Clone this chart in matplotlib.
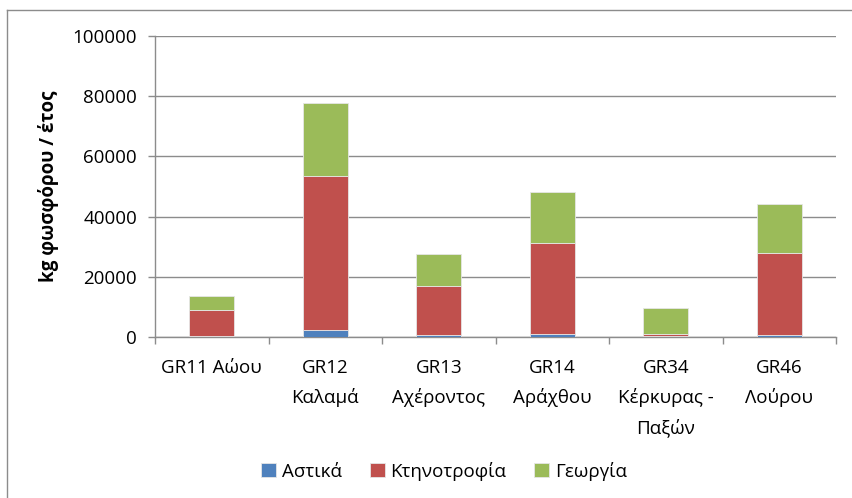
import numpy as np
import matplotlib.pyplot as plt
from matplotlib.lines import Line2D

plt.rcParams['font.family'] = ['Open Sans', 'DejaVu Sans']

# kg phosphorus per year
categories = ['GR11 Αώου', 'GR12\nΚαλαμά', 'GR13\nΑχέροντος', 'GR14\nΑράχθου',
              'GR34\nΚέρκυρας -\nΠαξών', 'GR46\nΛούρου']
astika = [400, 2200, 550, 1100, 450, 800]
ktinotrofia = [8600, 51300, 16400, 30150, 450, 27100]
georgia = [4500, 24400, 10500, 17050, 8600, 16300]

colors = ['#4F81BD', '#C0504D', '#9BBB59']
names = ['Αστικά', 'Κτηνοτροφία', 'Γεωργία']
fs = 13.5

W, H = 852, 498
fig = plt.figure(figsize=(W / 100, H / 100), dpi=100)
ax = fig.add_axes([155 / W, 1 - 337 / H, (836 - 155) / W, (337 - 36) / H])

x = np.arange(len(categories))
bottom = np.zeros(len(categories))
handles = []
for vals, c, n in zip([astika, ktinotrofia, georgia], colors, names):
    b = ax.bar(x, vals, width=0.4, bottom=bottom, color=c, edgecolor='#e6e6e6',
               linewidth=0.6, label=n, zorder=3)
    handles.append(b)
    bottom += np.array(vals)

ax.set_xlim(-0.5, len(categories) - 0.5)
ax.set_ylim(0, 100000)
ax.set_yticks(np.arange(0, 100001, 20000))
ax.yaxis.grid(True, color='#8c8c8c', linewidth=1.0, zorder=0)
ax.set_axisbelow(True)

ax.set_xticks(x)
ax.set_xticklabels(categories, fontsize=fs, linespacing=1.75)
ax.set_xticks(np.arange(-0.5, len(categories), 1), minor=True)
ax.tick_params(axis='x', which='major', length=0, pad=16)
ax.tick_params(axis='x', which='minor', length=5, color='#8c8c8c', width=1)
ax.tick_params(axis='y', length=5, color='#8c8c8c', width=1, labelsize=fs, pad=8)

for s in ['top', 'right']:
    ax.spines[s].set_visible(False)
for s in ['left', 'bottom']:
    ax.spines[s].set_color('#8c8c8c')
    ax.spines[s].set_linewidth(1)

ax.set_ylabel('kg φωσφόρου / έτος', fontsize=fs, fontweight='bold', labelpad=10)

fig.legend(handles=handles, labels=names, loc='center', bbox_to_anchor=(444 / W, 1 - 471 / H),
           ncol=3, frameon=False, fontsize=fs, handlelength=0.8, handleheight=0.8,
           handletextpad=0.3, columnspacing=1.5)

# outer chart border (only top and left are inside the picture)
fig.add_artist(Line2D([7 / W, 7 / W], [0, 1 - 10 / H], color='#8c8c8c', linewidth=1,
                      transform=fig.transFigure))
fig.add_artist(Line2D([7 / W, 1], [1 - 10 / H, 1 - 10 / H], color='#8c8c8c', linewidth=1,
                      transform=fig.transFigure))

fig.savefig('out.png', dpi=100)
